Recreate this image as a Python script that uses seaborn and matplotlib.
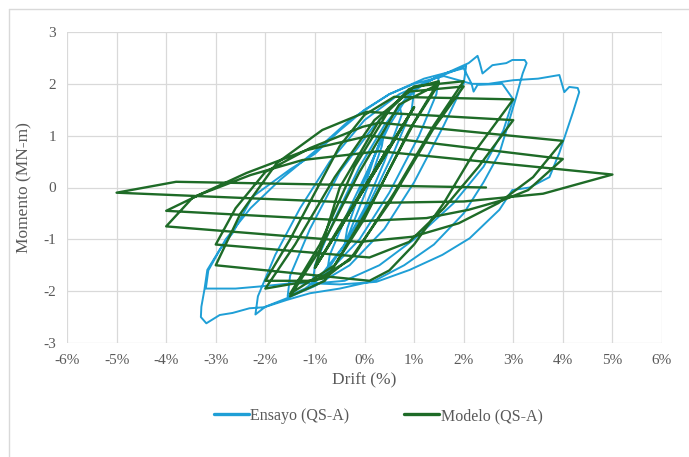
import matplotlib
matplotlib.use("Agg")
import matplotlib.pyplot as plt
import seaborn as sns
import pandas as pd
from matplotlib.lines import Line2D

# ---------------- data (drift in %, moment in MN-m) ----------------
ensayo_drift = [
    0.0, 0.2, 0.4, 0.35, 0.1, -0.15, -0.4, -0.35, -0.1, 0.15, 0.45,
    0.7, 0.75, 0.4, 0.0, -0.4, -0.75, -0.7, -0.3, 0.1, 0.5, 0.8,
    1.0, 0.95, 0.6, 0.1, -0.4, -0.8, -1.05, -1.0, -0.6, -0.1, 0.4, 0.9,
    1.3, 1.5, 1.45, 1.1, 0.5, -0.1, -0.7, -1.2, -1.55, -1.5, -1.1, -0.5, 0.2, 0.8, 1.4,
    1.8, 2.05, 2.0, 1.6, 1.0, 0.4, -0.3, -1.0, -1.6, -2.0, -2.2, -2.15, -1.8, -1.3, -0.7, 0.0, 0.7, 1.4, 2.1,
    2.28, 2.32, 2.38, 2.58, 2.86, 2.98, 3.23, 3.27, 3.19, 3.06, 2.86, 2.72, 2.4, 2.0, 1.4, 0.8, 0.2,
    -0.5, -1.1, -1.57, -2.02, -2.32, -2.66, -2.92, -3.19, -3.3, -3.29, -3.23, -3.17, -2.92, -2.66, -2.26,
    -1.5, -1.0, -0.5, 0.0, 0.5, 1.0, 1.6, 2.16, 2.2, 2.28, 2.78, 3.0, 2.8, 2.4, 1.8, 1.0, 0.3,
    -0.4, -1.0, -1.5, -2.0, -2.6, -3.2, -3.15, -2.8, -2.3, -1.7, -1.0, -0.3, 0.5, 1.2, 2.0,
    2.16, 2.5, 3.0, 3.5, 3.93, 4.03, 4.13, 4.3, 4.33, 4.2, 3.93, 3.73, 3.33, 2.98, 2.72, 2.12,
    1.57, 0.91, 0.24, -0.04, -0.5, -1.0,
]
ensayo_moment = [
    0.0, 0.6, 1.1, 0.8, 0.1, -0.5, -1.1, -0.8, -0.1, 0.5, 1.2,
    1.6, 1.4, 0.5, -0.4, -1.1, -1.6, -1.3, -0.4, 0.4, 1.2, 1.65,
    1.85, 1.5, 0.7, -0.3, -1.1, -1.6, -1.9, -1.5, -0.6, 0.4, 1.2, 1.8,
    2.05, 2.15, 1.8, 1.0, -0.1, -1.0, -1.6, -1.95, -2.1, -1.7, -0.8, 0.3, 1.2, 1.8, 2.1,
    2.25, 2.35, 2.0, 1.2, 0.1, -0.8, -1.5, -1.9, -2.15, -2.3, -2.45, -2.1, -1.3, -0.4, 0.5, 1.3, 1.8, 2.1, 2.4,
    2.54, 2.42, 2.2, 2.36, 2.4, 2.46, 2.46, 2.4, 2.2, 1.75, 1.1, 0.66, 0.1, -0.5, -1.1, -1.5, -1.8,
    -1.95, -2.04, -2.17, -2.31, -2.33, -2.42, -2.46, -2.62, -2.5, -2.3, -1.98, -1.59, -1.2, -0.88, -0.18,
    0.35, 0.65, 1.1, 1.5, 1.8, 2.0, 2.15, 2.0, 1.85, 1.98, 2.0, 1.7, 1.1, 0.4, -0.3, -1.0, -1.5,
    -1.8, -1.85, -1.85, -1.9, -1.95, -1.95, -1.6, -1.0, -0.4, 0.15, 0.7, 1.3, 1.8, 2.1, 2.3,
    2.0, 2.0, 2.07, 2.1, 2.17, 1.84, 1.94, 1.92, 1.84, 1.44, 0.67, 0.2, -0.0, -0.05, -0.43, -0.98,
    -1.3, -1.59, -1.82, -1.84, -1.87, -1.85,
]

modelo_drift = [
    0.0, 0.5, -0.5, 0.5, -0.5,
    1.0, 0.5, -1.0, -0.5, 1.0, 0.5, -1.0,
    -0.5, 0.3, 0.9, 1.5, 0.9, 0.0, -0.8, -1.5,
    -0.9, -0.1, 0.7, 1.5, 1.0, 0.2, -0.6, -1.5,
    -0.9, -0.2, 0.5, 1.0, 2.0, 1.4, 0.6, -0.2, -0.8, -2.0,
    -1.4, -0.6, 0.2, 0.9, 2.0, 1.4, 0.5, -0.3, -1.0, -2.0,
    -1.5, -1.0, -0.5, 0.0, 0.6, 3.0, 2.2, 1.6, 1.0, 0.5, 0.1, -3.0,
    -2.5, -1.77, -0.85, 0.04, 3.0, 2.3, 1.6, 0.9, 0.1, -3.0,
    -2.6, -2.0, -1.1, -0.04, 0.3, 4.0, 3.4, 2.7, 1.9, 0.97, -0.1, -4.0,
    -3.47, -2.38, -1.17, 0.1, 4.0, 3.3, 2.8, 2.1, 1.25, -0.1, -4.0,
    -3.33, -2.3, -1.25, 0.3, 5.0, 3.6, 2.0, 0.0, -5.0,
    -3.8, 2.45,
]
modelo_moment = [
    0.0, 0.8, -0.8, 0.8, -0.8,
    1.55, 0.75, -1.55, -0.75, 1.55, 0.75, -1.55,
    0.0, 1.3, 1.9, 2.05, 1.1, -0.6, -1.8, -2.1,
    -1.2, 0.3, 1.6, 2.0, 1.25, -0.2, -1.5, -2.05,
    -1.1, 0.4, 1.5, 1.95, 2.05, 1.2, -0.1, -1.3, -1.75, -1.95,
    -1.1, 0.2, 1.3, 1.85, 1.95, 1.15, -0.3, -1.4, -1.8, -1.8,
    -1.0, -0.1, 0.8, 1.4, 1.75, 1.7, 0.66, -0.3, -1.1, -1.6, -1.8, -1.5,
    -0.5, 0.47, 1.11, 1.46, 1.3, 0.4, -0.4, -1.05, -1.35, -1.1,
    -0.4, 0.3, 0.76, 1.17, 1.25, 0.9, 0.2, -0.3, -0.69, -0.95, -1.05, -0.75,
    -0.2, 0.28, 0.72, 1.0, 0.55, -0.05, -0.24, -0.43, -0.59, -0.65, -0.45,
    -0.14, 0.24, 0.53, 0.7, 0.25, -0.12, -0.27, -0.3, -0.1,
    0.11, 0.0,
]

x_ticks = [-6, -5, -4, -3, -2, -1, 0, 1, 2, 3, 4, 5, 6]
x_ticklabels = ["-6%", "-5%", "-4%", "-3%", "-2%", "-1%", "0%", "1%", "2%", "3%", "4%", "5%", "6%"]
y_ticks = [-3, -2, -1, 0, 1, 2, 3]
y_ticklabels = ["-3", "-2", "-1", "0", "1", "2", "3"]
series_names = ["Ensayo (QS-A)", "Modelo (QS-A)"]
series_colors = ["#1f9fd6", "#1e6b27"]

# ---------------- build frames ----------------
df_e = pd.DataFrame({"Drift": ensayo_drift, "Momento": ensayo_moment, "Serie": series_names[0]})
df_m = pd.DataFrame({"Drift": modelo_drift, "Momento": modelo_moment, "Serie": series_names[1]})

sns.set_theme(style="white")
plt.rcParams["font.family"] = ["Liberation Serif", "DejaVu Serif"]
plt.rcParams["axes.unicode_minus"] = False

text_color = "#595959"

fig = plt.figure(figsize=(6.89, 4.57), dpi=100)
ax = fig.add_axes([67 / 689, 1 - 343 / 457, (662 - 67) / 689, (343 - 32) / 457])

sns.lineplot(data=df_e, x="Drift", y="Momento", sort=False, estimator=None,
             color=series_colors[0], linewidth=1.4, ax=ax, label=series_names[0])
sns.lineplot(data=df_m, x="Drift", y="Momento", sort=False, estimator=None,
             color=series_colors[1], linewidth=1.7, ax=ax, label=series_names[1])

ax.set_xlim(-6, 6)
ax.set_ylim(-3, 3)
ax.set_xticks(x_ticks)
ax.set_xticklabels(x_ticklabels)
ax.set_yticks(y_ticks)
ax.set_yticklabels(y_ticklabels)
ax.grid(True, color="#d9d9d9", linewidth=0.9)
ax.set_axisbelow(True)
for s in ax.spines.values():
    s.set_visible(False)
ax.tick_params(axis="both", length=0, labelsize=11, colors=text_color, pad=8)
ax.set_xlabel("Drift (%)", fontsize=12.5, color=text_color, labelpad=4)
ax.set_ylabel("Momento (MN-m)", fontsize=12.5, color=text_color, labelpad=8)

leg = ax.legend(loc="center", bbox_to_anchor=(378 / 689, 1 - 416 / 457),
                bbox_transform=fig.transFigure, ncol=2, frameon=False,
                fontsize=11.5, handlelength=2.2, handletextpad=0.1, columnspacing=3.4)
for t in leg.get_texts():
    t.set_color(text_color)
for h in leg.get_lines():
    h.set_linewidth(2.4)

# chart-area frame (top and left visible)
fig.add_artist(Line2D([9 / 689, 9 / 689], [1 - 9 / 457, 0], transform=fig.transFigure,
                      color="#d9d9d9", linewidth=1.0))
fig.add_artist(Line2D([9 / 689, 1], [1 - 9 / 457, 1 - 9 / 457], transform=fig.transFigure,
                      color="#d9d9d9", linewidth=1.0))

fig.savefig("out.png", dpi=100)
